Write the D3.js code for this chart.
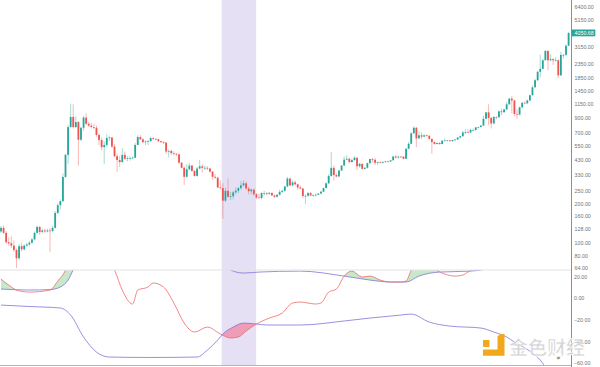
<!DOCTYPE html>
<html><head><meta charset="utf-8">
<script src="https://cdn.jsdelivr.net/npm/d3@7"></script>
<style>html,body{margin:0;padding:0;background:#fff;overflow:hidden}</style>
</head><body><svg id="c" width="600" height="367"></svg>
<script>
// ---- weekly candles (index 0 = first visible week) ----
const opens = [122,130,119,101,99,95,88,76,94,89,95,97,100,106,119,132,121,124,122,124,
123,130,169,194,208,319,471,769,920,769,841,615,760,910,815,790,770,760,670,612,
540,561,634,640,545,460,430,415,471,440,443,445,448,561,645,620,590,595,600,634,
625,620,600,590,585,500,505,485,480,475,410,375,320,365,390,355,325,370,385,375,
375,370,350,320,315,265,262,210,250,225,227,243,250,262,275,285,260,248,255,235,
222,220,240,240,237,241,230,225,233,245,250,270,310,275,290,280,265,260,228,229,
240,230,231,233,238,246,262,285,325,375,330,322,357,390,433,440,415,430,448,385,
402,368,375,407,438,432,410,413,410,416,420,419,428,458,450,457,456,440,525,573,
690,760,630,665,650,665,660,625,590,570,581,570,605,607,608,600,612,617,640,655,
700,705,700,730,730,765,770,790,890,998,905,820,920,915,1015,1000,1050,1150,1270,1230,
970,960,1090,1180,1170,1230,1350,1550,1760,2040,2150,2500,2950,2500,2550,2500,2500,1915,2750,2750,
3230];
const closes = [130,119,101,99,95,88,76,94,89,95,97,100,106,119,132,121,124,122,124,123,
130,169,194,208,319,471,769,920,769,841,615,760,910,815,790,770,760,670,612,540,
561,634,640,545,460,430,415,471,440,443,445,448,561,645,620,590,595,600,634,625,
620,600,590,585,500,505,485,480,475,410,375,320,365,390,355,325,370,385,375,375,
370,350,320,315,265,262,210,250,225,227,243,250,262,275,285,260,248,255,235,222,
220,240,240,237,241,230,225,233,245,250,270,310,275,290,280,265,260,228,229,240,
230,231,233,238,246,262,285,325,375,330,322,357,390,433,440,415,430,448,385,402,
368,375,407,438,432,410,413,410,416,420,419,428,458,450,457,456,440,525,573,690,
760,630,665,650,665,660,625,590,570,581,570,605,607,608,600,612,617,640,655,700,
705,700,730,730,765,770,790,890,998,905,820,920,915,1015,1000,1050,1150,1270,1230,970,
960,1090,1180,1170,1230,1350,1550,1760,2040,2150,2500,2950,2500,2550,2500,2500,1915,2750,2750,3230,
4050.68];
const highs = [134,135,123,110,112,104,90,98,100,97,100,103,108,122,135,134,128,128,128,130,
135,175,200,215,340,480,800,1163,1150,930,860,770,940,980,840,830,810,790,690,640,
600,680,660,645,570,480,460,530,500,460,460,460,580,665,670,630,610,610,650,640,
630,625,605,600,590,520,515,500,485,480,415,385,400,410,395,360,380,430,400,390,
385,375,355,335,320,300,285,265,310,245,250,265,268,295,300,295,270,260,260,240,
238,245,250,245,245,242,235,235,255,255,272,320,315,300,300,285,275,262,235,245,
245,235,238,240,250,265,290,335,495,390,340,362,395,460,470,450,440,460,450,410,
405,380,410,440,445,445,420,420,420,425,425,432,460,468,462,460,460,530,590,700,
780,770,710,700,680,675,665,625,600,585,590,610,630,612,612,615,625,645,660,720,
740,740,750,750,770,775,795,940,1000,1150,910,930,930,1035,1065,1060,1200,1290,1330,1250,
1050,1100,1205,1210,1250,1360,1600,1800,2080,2760,2550,2990,2980,2770,2600,2650,2550,2900,2800,3300,
4100];
const lows = [119,116,98,95,91,85,64,74,86,87,93,94,98,104,117,115,118,119,120,85,
120,128,165,180,205,315,400,760,750,760,390,600,720,800,770,750,740,650,560,510,
400,540,600,530,450,350,380,410,430,420,425,435,445,560,610,580,560,560,595,610,
610,590,580,570,480,450,470,465,460,400,370,277,315,360,350,320,320,365,345,360,
360,345,305,310,262,255,152,205,220,212,215,235,240,255,270,255,235,235,230,215,
218,215,230,230,232,228,220,222,230,240,245,265,270,270,275,255,258,220,198,225,
228,225,226,232,236,245,262,283,320,300,315,318,355,390,430,405,410,425,360,375,
365,365,370,400,410,395,395,405,405,410,415,415,428,440,440,450,435,435,520,570,
680,540,625,620,645,650,610,480,565,565,565,570,600,600,595,595,605,615,630,650,
680,695,690,725,720,750,765,785,885,800,750,810,880,910,950,990,1045,1135,980,930,
890,945,1070,1160,1160,1220,1340,1550,1730,1850,2140,2500,2100,2460,2300,2450,1830,1900,2580,2700,
3230];
const lastPrice = 4050.68;
const highlightRange = [86, 99];

// ---- price axis ticks ----
const priceTicks = [6400,5150,3150,2350,1850,1450,1150,900,700,550,430,330,250,200,160,128,100,80,64];
const indTicks = [20,0,-20,-40,-60];

// ---- lower indicator (read at candle indices) ----
const oscIdx = [0,3,6,11,19,22,25,27,35,41,44,47,51,53,57,59,63,67,71,75,80,85,89,92,95,99,104,109,113,116,122,124,127,130,133,136,140,143,147,151,155,157,159,162,166,169,172,176,179,181,183,190,201,209,220];
const oscVal = [17.5,12,7.4,5.5,7.4,15.7,25.9,40,55,40,26,7.4,-5.5,7.4,10.2,13.9,10.2,-4.6,-23.1,-31.4,-26.8,-33.2,-36.9,-36,-30.5,-24,-18.5,-13.9,-4.6,-3.7,-5.5,-4.6,5.5,8.3,20.3,24.9,19.4,20.3,16.6,14.8,14.8,15.7,25.9,40,35,25.9,22.2,20.3,21.2,24,27.7,45,40,50,55];
const upIdx = [0,11,19,23,26,28,33,46,70,83,89,92,94,100,116,133,143,151,157,162,170,182,186,193,220];
const upVal = [8.3,7.4,7.8,10.2,16.6,25.9,40,55,50,35,25.9,23.5,23.1,24,24.9,20.3,16.6,14.8,14.8,20.3,24,24.9,25.9,30,40];
const loIdx = [0,11,23,27,32,37,42,58,76,80,84,86,90,94,99,103,116,133,143,155,159,166,174,186,191,196,199,206,209,211,220];
const loVal = [-6.5,-7.8,-9.2,-15.7,-36,-49.9,-54.5,-54.9,-54.5,-48,-38.8,-33.2,-26.8,-23.1,-24,-24.9,-24.9,-21.2,-18.5,-15.7,-14.8,-22.2,-25.9,-27.7,-31.4,-36,-40.6,-50.8,-57.2,-63.7,-85];

// ---- layout ----
const plotR = 571, upperBot = 270, lowerTop = 270.5, lowerBot = 365;
const UP = '#26a69a', DOWN = '#ef5350';
const svg = d3.select('#c');
const x = d3.scaleLinear().domain([0, closes.length - 1]).range([1, 568.6]);
const yP = d3.scaleLog().domain([64, 6400]).range([268, 7]);
const yI = d3.scaleLinear().domain([-60, 20]).range([363, 276.4]);
const step = x(1) - x(0);

const defs = svg.append('defs');
defs.append('clipPath').attr('id','clipU').append('rect').attr('x',0).attr('y',0).attr('width',plotR).attr('height',upperBot);
defs.append('clipPath').attr('id','clipL').append('rect').attr('x',0).attr('y',lowerTop).attr('width',plotR).attr('height',lowerBot-lowerTop);

// highlight band
svg.append('rect')
  .attr('x', x(highlightRange[0]) - 1.2)
  .attr('y', 0)
  .attr('width', x(highlightRange[1]) - x(highlightRange[0]) + 0.9)
  .attr('height', lowerBot)
  .attr('fill', '#e6e0f5');

// panel separator and bottom border
svg.append('line').attr('x1',0).attr('x2',plotR).attr('y1',270).attr('y2',270).attr('stroke','#e3e3e6').attr('stroke-width',1);
svg.append('line').attr('x1',0).attr('x2',plotR).attr('y1',365.5).attr('y2',365.5).attr('stroke','#b5b5b8').attr('stroke-width',1);

// candles
const data = closes.map((c,i)=>({i, o:opens[i], h:highs[i], l:lows[i], c}));
const gU = svg.append('g').attr('clip-path','url(#clipU)');
gU.selectAll('line.w').data(data).join('line')
  .attr('x1', d=>x(d.i)).attr('x2', d=>x(d.i))
  .attr('y1', d=>yP(d.h)).attr('y2', d=>yP(d.l))
  .attr('stroke', d=> d.c>=d.o ? UP : DOWN)
  .attr('stroke-opacity', 0.6)
  .attr('stroke-width', 0.7);
const bw = 1.8;
gU.selectAll('rect.b').data(data).join('rect')
  .attr('x', d=>x(d.i)-bw/2)
  .attr('width', bw)
  .attr('y', d=>Math.min(yP(d.o), yP(d.c)))
  .attr('height', d=>Math.max(0.7, Math.abs(yP(d.o)-yP(d.c))))
  .attr('fill', d=> d.c>=d.o ? UP : DOWN);

// lower indicator
const osc = oscIdx.map((k,j)=>[k, oscVal[j]]);
const up = upIdx.map((k,j)=>[k, upVal[j]]);
const lo = loIdx.map((k,j)=>[k, loVal[j]]);
const curve = d3.curveMonotoneX;
const line = d3.line().x(d=>x(d[0])).y(d=>yI(d[1])).curve(curve);
const areaDown = d3.area().x(d=>x(d[0])).y0(600).y1(d=>yI(d[1])).curve(curve);
const areaUp = d3.area().x(d=>x(d[0])).y0(-300).y1(d=>yI(d[1])).curve(curve);

defs.append('clipPath').attr('id','oscBelow').append('path').attr('d', areaDown(osc));
defs.append('clipPath').attr('id','oscAbove').append('path').attr('d', areaUp(osc));

const gL = svg.append('g').attr('clip-path','url(#clipL)');
// green: oscillator above upper band
gL.append('g').attr('clip-path','url(#oscBelow)')
  .append('path').attr('d', areaUp(up)).attr('fill','rgba(100,190,110,0.36)');
// pink: oscillator below lower band
gL.append('g').attr('clip-path','url(#oscAbove)')
  .append('path').attr('d', areaDown(lo)).attr('fill','rgba(245,110,140,0.6)');
gL.append('path').attr('d', line(up)).attr('fill','none').attr('stroke','#7f73d8').attr('stroke-width',0.8);
gL.append('path').attr('d', line(lo)).attr('fill','none').attr('stroke','#7f73d8').attr('stroke-width',0.8);
gL.append('path').attr('d', line(osc)).attr('fill','none').attr('stroke','#f06a6a').attr('stroke-width',0.8);

// right axis
const fmt = d3.format('.2f');
const axP = d3.axisRight(yP).tickValues(priceTicks).tickFormat(fmt).tickSize(0).tickPadding(3.6);
const axI = d3.axisRight(yI).tickValues(indTicks).tickFormat(fmt).tickSize(0).tickPadding(3.0);
[axP, axI].forEach(ax=>{
  const g = svg.append('g').attr('transform',`translate(${plotR},0)`).call(ax);
  g.select('.domain').remove();
  g.selectAll('text').attr('fill','#737373').attr('font-size','5.3px').attr('font-family','"Liberation Sans", Arial, sans-serif');
});
svg.append('line').attr('x1',plotR+0.5).attr('x2',plotR+0.5).attr('y1',0).attr('y2',367).attr('stroke','#8e8e8e').attr('stroke-width',1);

// last price tag
const ty = yP(lastPrice);
svg.append('rect').attr('x',plotR+0.8).attr('y',ty-3.4).attr('width',23.5).attr('height',6.8).attr('fill',UP);
svg.append('text').attr('x',plotR+3.6).attr('y',ty).attr('dy','0.34em')
  .attr('fill','#fff').attr('font-size','5.3px').attr('font-family','"Liberation Sans", Arial, sans-serif')
  .text(fmt(lastPrice));

// watermark
const wm = svg.append('g');
wm.append('rect').attr('x',483).attr('y',340).attr('width',6.5).attr('height',7).attr('rx',0.8).attr('fill','#f2a81d');
wm.append('path').attr('d','M497.5 336 L501 334 L504.5 334 L504.5 355.7 L483 355.7 L483 349.6 L497.5 349.6 Z').attr('fill','#f2a81d');
wm.append('text').attr('x',509).attr('y',355).attr('font-size','19px').attr('font-weight','700')
  .attr('font-family','"Noto Sans CJK SC", sans-serif').attr('fill','#cfcfcf').attr('fill-opacity',0.9)
  .attr('stroke','#ffffff').attr('stroke-width',0.6).text('金色财经');
wm.append('circle').attr('cx',558.3).attr('cy',357.3).attr('r',4.6).attr('fill','#ffffff').attr('fill-opacity',0.85);
wm.append('text').attr('x',558.3).attr('y',357.3).attr('dy','0.35em').attr('text-anchor','middle')
  .attr('font-size','7px').attr('fill','#333').attr('font-family','"DejaVu Sans", sans-serif').text('»');
</script>
</body></html>
